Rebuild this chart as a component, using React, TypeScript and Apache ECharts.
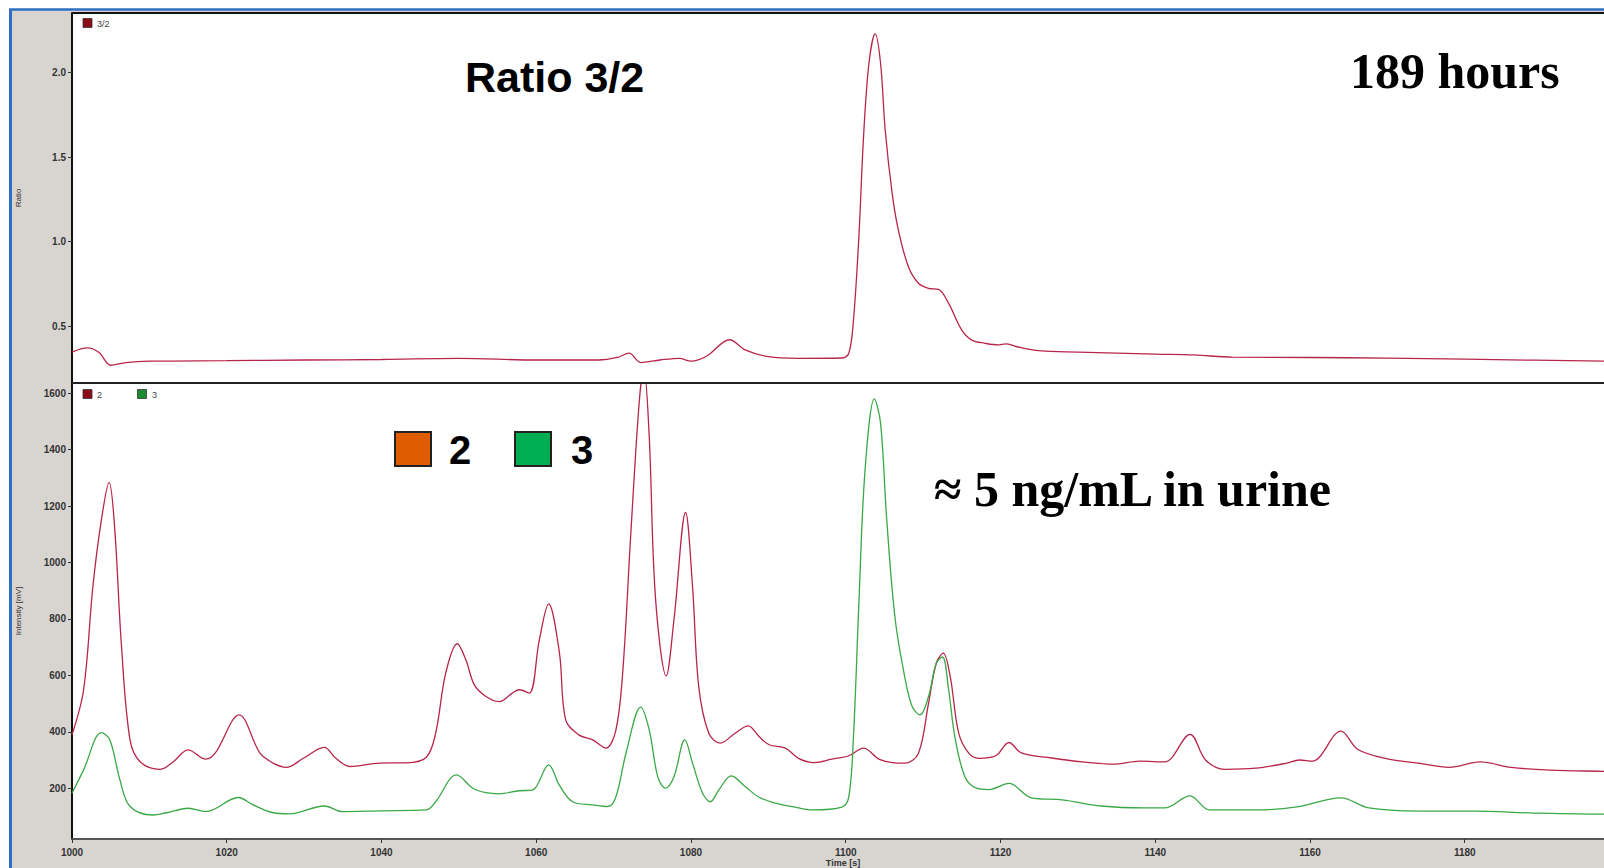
import React, { useEffect, useRef } from "react";
import * as echarts from "echarts";

// Ratio 3/2 trace: [time s, ratio]
const ratio32: [number, number][] = [
  [1000, 0.347], [1002, 0.372], [1003.5, 0.345], [1005, 0.269], [1007, 0.285], [1010, 0.293],
  [1020, 0.296], [1030, 0.3], [1040, 0.303], [1050, 0.31], [1060, 0.3], [1068, 0.3],
  [1070.5, 0.315], [1072, 0.341], [1073.5, 0.285], [1076, 0.3], [1078.5, 0.31], [1080, 0.293],
  [1082, 0.322], [1085, 0.42], [1087, 0.36], [1090, 0.32], [1093.9, 0.31], [1099.5, 0.312],
  [1100.4, 0.34], [1101, 0.537], [1101.7, 1.03], [1102.3, 1.62], [1103, 2.056], [1103.8, 2.229],
  [1104.5, 2.056], [1105.1, 1.661], [1106, 1.286], [1106.8, 1.069], [1108.1, 0.852], [1109.4, 0.754],
  [1110.7, 0.724], [1112, 0.718], [1113.3, 0.635], [1115, 0.477], [1116.3, 0.418], [1118, 0.399],
  [1119.7, 0.389], [1120.7, 0.396], [1122, 0.38], [1125, 0.355], [1130, 0.347], [1140, 0.335],
  [1145, 0.33], [1150, 0.317], [1160, 0.315], [1170, 0.311], [1180, 0.305], [1198, 0.293], [1200, 0.292],
];

// Trace 2 intensity: [time s, mV]
const trace2: [number, number][] = [
  [1000, 389], [1001.5, 549], [1002.7, 915], [1003.8, 1151], [1004.8, 1284], [1005.5, 1128],
  [1006.4, 702], [1007.5, 371], [1008.8, 294], [1011.4, 267], [1013.1, 294], [1015, 336],
  [1017.3, 303], [1018.5, 324], [1021.6, 460], [1024.3, 324], [1026, 289], [1027.7, 274],
  [1029.9, 306], [1032.6, 345], [1034.1, 306], [1035.9, 277], [1039.7, 289], [1043.2, 290],
  [1045.8, 310], [1047, 395], [1048.3, 608], [1049.8, 712], [1050.9, 655], [1052, 566],
  [1053.5, 525], [1055.2, 507], [1056.9, 537], [1057.8, 549], [1059.1, 537], [1060.4, 726],
  [1061.6, 853], [1063, 679], [1063.8, 442], [1065.5, 389], [1067.3, 371], [1069, 342],
  [1070.3, 407], [1071.2, 620], [1072.2, 1092], [1073.3, 1565], [1073.9, 1690], [1074.6, 1447],
  [1075.4, 879], [1076.8, 598], [1077.8, 797], [1079.3, 1177], [1080.2, 915], [1081, 560],
  [1082.3, 395], [1083.8, 360], [1085.7, 395], [1087.4, 421], [1088.8, 383], [1090.1, 354],
  [1092.2, 342], [1093.9, 306], [1095.9, 291], [1098.2, 303], [1100.4, 315], [1102.3, 342],
  [1104.3, 303], [1106, 291], [1107.7, 289], [1109.4, 324], [1110.7, 501], [1111.7, 643],
  [1112.6, 679], [1113.5, 596], [1114.6, 395], [1115.9, 324], [1117.2, 306], [1119.4, 315],
  [1121.1, 362], [1122.7, 325], [1126.6, 307], [1130.6, 293], [1134.6, 285], [1138, 296],
  [1141.2, 293], [1144.5, 391], [1146.5, 300], [1149, 267], [1153, 271], [1157, 289],
  [1158.6, 300], [1160.3, 296], [1164, 402], [1166.2, 337], [1170, 304], [1174, 289],
  [1178, 274], [1182, 293], [1186, 274], [1191, 264], [1198, 260], [1200, 259],
];

// Trace 3 intensity: [time s, mV]
const trace3: [number, number][] = [
  [1000, 182], [1001.5, 265], [1003.8, 397], [1004.9, 371], [1006.2, 229], [1007.5, 135],
  [1010.5, 105], [1012.2, 113], [1015, 129], [1017.3, 117], [1021.5, 167], [1023.4, 141],
  [1026, 113], [1028.1, 109], [1032.6, 137], [1035, 117], [1039.7, 120], [1045.8, 123],
  [1047, 152], [1049.7, 247], [1051.8, 200], [1053.5, 184], [1055.2, 180], [1057.8, 191],
  [1059.5, 193], [1061.6, 283], [1063, 210], [1064.7, 152], [1067.3, 141], [1069.2, 135],
  [1070.3, 170], [1071.6, 324], [1073.5, 487], [1074.6, 407], [1075.7, 241], [1076.7, 200],
  [1077.8, 241], [1079.2, 371], [1080.2, 289], [1081.5, 182], [1082.5, 152], [1083.6, 194],
  [1085.2, 244], [1087, 206], [1088.8, 168], [1090.9, 147], [1093.1, 135], [1095.7, 123],
  [1099.5, 133], [1100.4, 170], [1101, 383], [1101.7, 856], [1102.5, 1329], [1103.7, 1580],
  [1104.5, 1494], [1105.3, 1151], [1106.4, 797], [1107.7, 584], [1108.6, 489], [1109.6, 460],
  [1110.7, 525], [1111.7, 643], [1112.5, 665], [1113.3, 549], [1114.1, 383], [1115.4, 241],
  [1116.9, 200], [1118.5, 195], [1121.1, 217], [1124, 166], [1128, 159], [1133, 137],
  [1138.6, 130], [1141.2, 130], [1144.5, 173], [1147, 123], [1153, 123], [1158.3, 134],
  [1164, 166], [1167.6, 130], [1174, 119], [1181, 119], [1189, 112], [1198, 108], [1200, 108],
];

const ratioTicks = [0.5, 1.0, 1.5, 2.0];
const intensityTicks = [200, 400, 600, 800, 1000, 1200, 1400, 1600];

const RED = "#b8254a";
const GREEN = "#3aa845";
const SANS = "Liberation Sans, Arial, sans-serif";
const SERIF = "Liberation Serif, Times New Roman, serif";

export default function App() {
  const ref = useRef<HTMLDivElement>(null);
  useEffect(() => {
    if (!ref.current) return;
    const chart = echarts.init(ref.current, undefined, { renderer: "svg" });
    const yLabel = {
      fontSize: 10,
      fontWeight: "bold",
      color: "#333",
      fontFamily: SANS,
      margin: 6,
    };
    const option: any = {
      animation: false,
      backgroundColor: "#d8d5d0",
      grid: [
        { left: 72, top: 13, right: 0, height: 370, show: true, backgroundColor: "#fff", borderWidth: 0 },
        { left: 72, top: 383, right: 0, height: 456, show: true, backgroundColor: "#fff", borderWidth: 0 },
      ],
      xAxis: [
        {
          type: "value", gridIndex: 0, min: 1000, max: 1198,
          axisLine: { show: false }, axisTick: { show: false }, axisLabel: { show: false }, splitLine: { show: false },
        },
        {
          type: "value", gridIndex: 1, min: 1000, max: 1198, interval: 20,
          axisLine: { show: true, onZero: false, lineStyle: { color: "#555", width: 2 } },
          axisTick: { show: true, length: 4, lineStyle: { color: "#333", width: 1 } },
          axisLabel: {
            fontSize: 10, fontWeight: "bold", color: "#333", fontFamily: SANS, margin: 8,
            showMaxLabel: false, formatter: (v: number) => String(v),
          },
          splitLine: { show: false },
        },
      ],
      yAxis: [
        {
          type: "value", gridIndex: 0, min: 0.164, max: 2.353,
          name: "Ratio", nameLocation: "middle", nameGap: 50,
          nameTextStyle: { fontSize: 8, color: "#333", fontFamily: SANS },
          axisLine: { show: true, onZero: false, lineStyle: { color: "#111", width: 2 } },
          axisTick: { show: true, length: 4, customValues: ratioTicks, lineStyle: { color: "#333" } },
          axisLabel: { ...yLabel, customValues: ratioTicks, formatter: (v: number) => v.toFixed(1) },
          splitLine: { show: false },
        },
        {
          type: "value", gridIndex: 1, min: 20, max: 1636,
          name: "Intensity [mV]", nameLocation: "middle", nameGap: 50,
          nameTextStyle: { fontSize: 8, color: "#333", fontFamily: SANS },
          axisLine: { show: true, onZero: false, lineStyle: { color: "#111", width: 2 } },
          axisTick: { show: true, length: 4, customValues: intensityTicks, lineStyle: { color: "#333" } },
          axisLabel: { ...yLabel, customValues: intensityTicks, formatter: (v: number) => String(v) },
          splitLine: { show: false },
        },
      ],
      series: [
        {
          name: "3/2", type: "line", xAxisIndex: 0, yAxisIndex: 0, data: ratio32,
          showSymbol: false, smooth: 0.35, lineStyle: { color: RED, width: 1.3 }, itemStyle: { color: RED },
        },
        {
          name: "2", type: "line", xAxisIndex: 1, yAxisIndex: 1, data: trace2,
          showSymbol: false, smooth: 0.35, lineStyle: { color: RED, width: 1.3 }, itemStyle: { color: RED },
        },
        {
          name: "3", type: "line", xAxisIndex: 1, yAxisIndex: 1, data: trace3,
          showSymbol: false, smooth: 0.35, lineStyle: { color: GREEN, width: 1.3 }, itemStyle: { color: GREEN },
        },
      ],
      graphic: [
        { type: "rect", shape: { x: 0, y: 0, width: 1604, height: 9 }, style: { fill: "#fff" }, silent: true },
        { type: "rect", shape: { x: 0, y: 0, width: 9, height: 868 }, style: { fill: "#fff" }, silent: true },
        { type: "line", shape: { x1: 9, y1: 9.5, x2: 1604, y2: 9.5 }, style: { stroke: "#2e6fc0", lineWidth: 2.5 }, silent: true },
        { type: "line", shape: { x1: 10.5, y1: 9, x2: 10.5, y2: 868 }, style: { stroke: "#2e6fc0", lineWidth: 3 }, silent: true },
        { type: "line", shape: { x1: 72, y1: 13, x2: 1604, y2: 13 }, style: { stroke: "#111", lineWidth: 2 }, silent: true, z: 10 },
        { type: "line", shape: { x1: 72, y1: 383, x2: 1604, y2: 383 }, style: { stroke: "#222", lineWidth: 2 }, silent: true, z: 10 },
        // small legends
        { type: "rect", shape: { x: 83, y: 18.5, width: 9, height: 9 }, style: { fill: "#8a0c16", stroke: "#333", lineWidth: 0.8 }, z: 10 },
        { type: "text", x: 97, y: 24, style: { text: "3/2", fontSize: 9, fill: "#444", fontFamily: SANS, textVerticalAlign: "middle" }, z: 10 },
        { type: "rect", shape: { x: 83, y: 389.5, width: 9, height: 9 }, style: { fill: "#8a0c16", stroke: "#333", lineWidth: 0.8 }, z: 10 },
        { type: "text", x: 97, y: 395, style: { text: "2", fontSize: 9, fill: "#444", fontFamily: SANS, textVerticalAlign: "middle" }, z: 10 },
        { type: "rect", shape: { x: 137.5, y: 389.5, width: 9, height: 9 }, style: { fill: "#1c8a2e", stroke: "#333", lineWidth: 0.8 }, z: 10 },
        { type: "text", x: 152, y: 395, style: { text: "3", fontSize: 9, fill: "#444", fontFamily: SANS, textVerticalAlign: "middle" }, z: 10 },
        // big legend
        { type: "rect", shape: { x: 395, y: 432, width: 36, height: 34 }, style: { fill: "#df5c00", stroke: "#222", lineWidth: 2 }, z: 10 },
        { type: "text", x: 449, y: 450, style: { text: "2", fontSize: 40, fontWeight: "bold", fill: "#000", fontFamily: SANS, textVerticalAlign: "middle" }, z: 10 },
        { type: "rect", shape: { x: 515, y: 432, width: 36, height: 34 }, style: { fill: "#00ad50", stroke: "#222", lineWidth: 2 }, z: 10 },
        { type: "text", x: 571, y: 450, style: { text: "3", fontSize: 40, fontWeight: "bold", fill: "#000", fontFamily: SANS, textVerticalAlign: "middle" }, z: 10 },
        // annotations
        { type: "text", x: 465, y: 77, style: { text: "Ratio 3/2", fontSize: 43, fontWeight: "bold", fill: "#000", fontFamily: SANS, textVerticalAlign: "middle" }, z: 10 },
        { type: "text", x: 1350, y: 71, style: { text: "189 hours", fontSize: 50, fontWeight: "bold", fill: "#000", fontFamily: SERIF, textVerticalAlign: "middle" }, z: 10 },
        { type: "text", x: 934, y: 489, style: { text: "\u2248 5 ng/mL in urine", fontSize: 50, fontWeight: "bold", fill: "#000", fontFamily: SERIF, textVerticalAlign: "middle" }, z: 10 },
        { type: "text", x: 843, y: 863, style: { text: "Time [s]", fontSize: 9, fontWeight: "bold", fill: "#333", fontFamily: SANS, textAlign: "center", textVerticalAlign: "middle" }, z: 10 },
      ],
    };
    chart.setOption(option);
    return () => chart.dispose();
  }, []);
  return (
    <div
      ref={ref}
      style={{ position: "absolute", left: 0, top: 0, width: 1604, height: 868 }}
    />
  );
}
